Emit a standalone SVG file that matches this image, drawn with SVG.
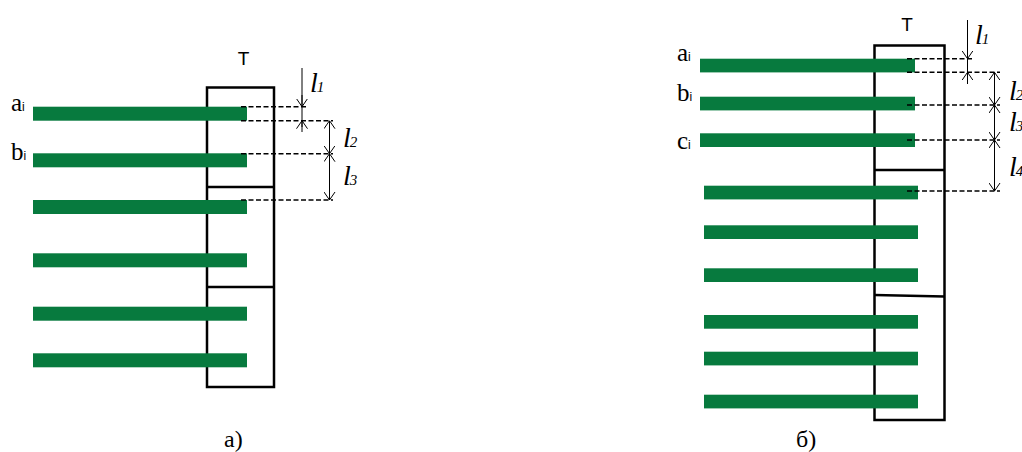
<svg xmlns="http://www.w3.org/2000/svg" width="1022" height="452" viewBox="0 0 1022 452">
<style>
.box{fill:none;stroke:#000;stroke-width:2.5}
.div{stroke:#000;stroke-width:2.5;fill:none}
.bar{fill:#077a3e}
.dash{stroke:#000;stroke-width:1.6;stroke-dasharray:5,2.5;fill:none}
.dim{stroke:#000;stroke-width:1;fill:none}
.arr{stroke:#000;stroke-width:1;fill:none;marker-end:url(#ah)}
.arr2{stroke:#000;stroke-width:1;fill:none;marker-start:url(#ah);marker-end:url(#ah)}
.ser{font-family:"Liberation Serif","Times New Roman",serif;fill:#000;font-size:25px}
.sub{font-family:"Liberation Sans",Arial,sans-serif;font-size:12px}
.tt{font-family:"Liberation Sans",Arial,sans-serif;fill:#000;font-size:19px;text-anchor:middle}
.cap{font-family:"Liberation Serif","Times New Roman",serif;fill:#000;font-size:24px}
.it{font-family:"Liberation Serif","Times New Roman",serif;font-style:italic;fill:#000;font-size:28px}
.dg{font-size:15px}
</style>
<defs>
<marker id="ah" viewBox="0 0 8 12" refX="8" refY="6" markerWidth="8" markerHeight="12" markerUnits="userSpaceOnUse" orient="auto-start-reverse">
<path d="M0,0.5 L8,6 L0,11.5" fill="none" stroke="#000" stroke-width="1"/>
</marker>
</defs>

<g id="panel-a">
  <g id="a-box">
    <rect class="box" x="207" y="87.5" width="67" height="299.5"/>
    <line class="div" x1="207" y1="187" x2="274" y2="187"/>
    <line class="div" x1="207" y1="287" x2="274" y2="287"/>
  </g>
  <g id="a-bars">
    <rect class="bar" x="33" y="106.7" width="214" height="14"/>
    <rect class="bar" x="33" y="153.3" width="214" height="14"/>
    <rect class="bar" x="33" y="200" width="214" height="14"/>
    <rect class="bar" x="33" y="253.3" width="214" height="14"/>
    <rect class="bar" x="33" y="306.7" width="214" height="14"/>
    <rect class="bar" x="33" y="353.3" width="214" height="14"/>
  </g>
  <g id="a-labels">
    <text class="tt" x="243.5" y="64.5">T</text>
    <text class="ser" x="11" y="110.5">a<tspan class="sub">i</tspan></text>
    <text class="ser" x="11" y="160">b<tspan class="sub">i</tspan></text>
    <text class="it" x="310" y="92">l<tspan class="dg" dx="-1">1</tspan></text>
    <text class="it" x="343" y="147">l<tspan class="dg" dx="-1">2</tspan></text>
    <text class="it" x="343" y="185">l<tspan class="dg" dx="-1">3</tspan></text>
    <text class="cap" x="224" y="446.5">а)</text>
  </g>
</g>

<g id="panel-b">
  <g id="b-box">
    <rect class="box" x="874.5" y="45.5" width="70" height="374.5"/>
    <line class="div" x1="874.5" y1="170" x2="944.5" y2="170"/>
    <line class="div" x1="874.5" y1="295" x2="944.5" y2="296.5"/>
  </g>
  <g id="b-bars">
    <rect class="bar" x="700" y="58.7" width="215" height="13.7"/>
    <rect class="bar" x="700" y="96.7" width="215" height="13.7"/>
    <rect class="bar" x="700" y="133.3" width="215" height="13.7"/>
    <rect class="bar" x="704" y="185.7" width="214" height="13.7"/>
    <rect class="bar" x="704" y="225.3" width="214" height="13.7"/>
    <rect class="bar" x="704" y="268.3" width="214" height="13.7"/>
    <rect class="bar" x="704" y="315" width="214" height="13.7"/>
    <rect class="bar" x="704" y="351.7" width="214" height="13.7"/>
    <rect class="bar" x="704" y="394.7" width="214" height="13.7"/>
  </g>
  <g id="b-labels">
    <text class="tt" x="907" y="31">T</text>
    <text class="ser" x="677" y="61">a<tspan class="sub">i</tspan></text>
    <text class="ser" x="677" y="100.5">b<tspan class="sub">i</tspan></text>
    <text class="ser" x="677" y="148.5">c<tspan class="sub">i</tspan></text>
    <text class="it" x="975" y="44">l<tspan class="dg" dx="-1">1</tspan></text>
    <text class="it" x="1009" y="100">l<tspan class="dg" dx="-1">2</tspan></text>
    <text class="it" x="1009" y="131">l<tspan class="dg" dx="-1">3</tspan></text>
    <text class="it" x="1009" y="176">l<tspan class="dg" dx="-1">4</tspan></text>
    <text class="cap" x="796" y="446.5">б)</text>
  </g>
</g>

<g id="connectors">
  <line class="dash" x1="241" y1="106.7" x2="307" y2="106.7"/>
  <line class="dash" x1="241" y1="120.7" x2="333" y2="120.7"/>
  <line class="dash" x1="241" y1="153.7" x2="333" y2="153.7"/>
  <line class="dash" x1="241" y1="200" x2="333" y2="200"/>
  <line class="dim" x1="302" y1="68" x2="302" y2="127"/>
  <path class="arr" d="M302,95 L302,106.7"/>
  <path class="arr" d="M302,132 L302,120.7"/>
  <path class="arr2" d="M329.5,120.7 L329.5,153.7"/>
  <path class="arr2" d="M329.5,153.7 L329.5,200"/>

  <line class="dash" x1="907" y1="58.7" x2="973" y2="58.7"/>
  <line class="dash" x1="907" y1="72.3" x2="1000" y2="72.3"/>
  <line class="dash" x1="907" y1="105" x2="1000" y2="105"/>
  <line class="dash" x1="907" y1="140" x2="1000" y2="140"/>
  <line class="dash" x1="907" y1="191" x2="1000" y2="191"/>
  <line class="dim" x1="967.5" y1="20" x2="967.5" y2="80"/>
  <path class="arr" d="M967.5,47 L967.5,58.7"/>
  <path class="arr" d="M967.5,84 L967.5,72.3"/>
  <path class="arr2" d="M994.5,72.3 L994.5,105"/>
  <path class="arr2" d="M994.5,105 L994.5,140"/>
  <path class="arr2" d="M994.5,140 L994.5,191"/>
</g>
</svg>
